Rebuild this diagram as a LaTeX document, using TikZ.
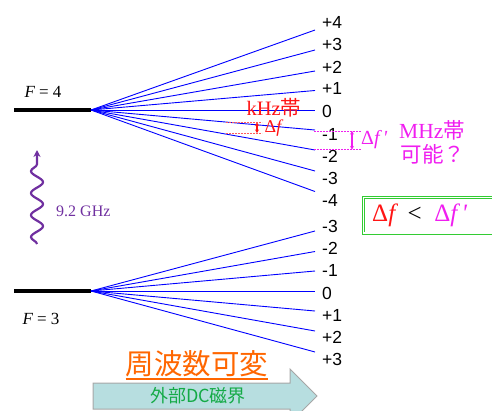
\documentclass[tikz,border=0pt]{standalone}
\usepackage{fontspec}
\setmainfont{Liberation Sans}
\newfontfamily\tms{Liberation Serif}
\newfontfamily\cjk{Noto Sans CJK JP}
\usetikzlibrary{arrows.meta,decorations.pathmorphing}
\definecolor{lvlblue}{RGB}{0,0,255}
\definecolor{khzred}{RGB}{255,20,20}
\definecolor{mhzmag}{RGB}{240,30,240}
\definecolor{wavepurple}{RGB}{112,48,160}
\definecolor{varorange}{RGB}{255,102,0}
\definecolor{boxgreen}{RGB}{51,204,51}
\definecolor{arrowfill}{RGB}{183,222,224}
\definecolor{dcgreen}{RGB}{20,170,70}
\begin{document}
\begin{tikzpicture}[x=1pt,y=-1pt,
  level/.style={line width=4.3pt,black},
  fan/.style={lvlblue,line width=0.9pt},
  mlabel/.style={anchor=west,inner sep=0pt,font=\fontsize{17.5}{17.5}\selectfont},
  flabel/.style={inner sep=0pt,font=\tms\fontsize{17}{17}\selectfont},
  reddash/.style={khzred!70,dash pattern=on 2pt off 1pt,line width=0.7pt},
  magdash/.style={mhzmag,dash pattern=on 2pt off 1pt,line width=0.7pt},
  dblarrow/.style={line width=1.1pt,{Stealth[length=3.5pt,width=4pt]}-{Stealth[length=3.5pt,width=4pt]}},
]
\useasboundingbox (0,0) rectangle (492,410);
\clip (0,0) rectangle (492,410);

% levels
\coordinate (u0) at (14,110);
\coordinate (u) at (91,110);
\coordinate (l0) at (14,291);
\coordinate (l) at (91,291);
\draw[level] (u0) -- (u);
\draw[level] (l0) -- (l);
\node[flabel] (F4) at (43,92) {\itshape F\upshape\ =\ 4};
\node[flabel] (F3) at (41,319) {\itshape F\upshape\ =\ 3};

% upper fan
\foreach \n/\ly/\ty/\t in {a/30/22/+4, b/50/44/+3, c/71/67/+2, d/90.5/88/+1, e/110/111/0, f/130/134/-1, g/150/156/-2, h/171/178/-3, i/191.5/200/-4}{
  \coordinate (ue\n) at (315,\ly);
  \draw[fan] (u) -- (ue\n);
  \node[mlabel] (ut\n) at (322,\ty) {\t};
}
% lower fan
\foreach \n/\ly/\ty/\t in {a/231/226/-3, b/251.5/248/-2, c/271/270/-1, d/291/293/0, e/311/315/+1, f/331/337/+2, g/352/359/+3}{
  \coordinate (le\n) at (315,\ly);
  \draw[fan] (l) -- (le\n);
  \node[mlabel] (lt\n) at (322,\ty) {\t};
}

% kHz annotation
\node[khzred,inner sep=0pt,font=\fontsize{20.5}{20.5}\selectfont] (khz) at (274,108) {\tms kHz\cjk 帯};
\coordinate (k1a) at (226,122.5);
\coordinate (k1b) at (262,122.5);
\coordinate (k2a) at (226,133);
\coordinate (k2b) at (262,133);
\draw[reddash] (k1a) -- (k1b);
\draw[reddash] (k2a) -- (k2b);
\coordinate (karr1) at (257,122.5);
\coordinate (karr2) at (257,133);
\draw[khzred,dblarrow] (karr1) -- (karr2);
\node[khzred,inner sep=0pt,anchor=west,font=\tms\fontsize{18}{18}\selectfont] (dfk) at (264.5,128.5) {Δ\itshape f};

% MHz annotation
\coordinate (m1a) at (314,131);
\coordinate (m1b) at (361,131);
\coordinate (m2a) at (314,149.5);
\coordinate (m2b) at (361,149.5);
\draw[magdash] (m1a) -- (m1b);
\draw[magdash] (m2a) -- (m2b);
\coordinate (marr1) at (352,131);
\coordinate (marr2) at (352,149.5);
\draw[mhzmag,dblarrow] (marr1) -- (marr2);
\node[mhzmag,inner sep=0pt,anchor=west,font=\tms\fontsize{20}{20}\selectfont] (dfm) at (361,140) {Δ{\itshape f}\,{\itshape\textquotesingle}};
\node[mhzmag,inner sep=0pt,font=\fontsize{21.5}{21.5}\selectfont] (mhz) at (432,130) {\tms MHz\cjk 帯};
\node[mhzmag,inner sep=0pt,font=\cjk\fontsize{21.5}{21.5}\selectfont] (kano) at (433,154) {可能？};

% comparison box
\draw[boxgreen,line width=0.9pt,double=white,double distance=1.2pt] (363.5,197.5) rectangle (500,233);
\node[inner sep=0pt,anchor=west,font=\tms\fontsize{25}{25}\selectfont] (cmp) at (372,215) {\textcolor{khzred}{Δ\itshape f}\ \ <\ \ \textcolor{mhzmag}{Δ{\itshape f}\,{\itshape\textquotesingle}}};

% microwave
\coordinate (w0) at (37,244);
\coordinate (w1) at (37,150);
\draw[wavepurple,line width=2.2pt,decorate,decoration={snake,amplitude=6pt,segment length=22pt,post length=10pt},-{Stealth[length=7pt,width=7pt]}] (w0) -- (w1);
\node[wavepurple,inner sep=0pt,anchor=west,font=\tms\fontsize{16}{16}\selectfont] (ghz) at (56,211) {9.2 GHz};

% frequency variable
\node[varorange,inner sep=0pt,font=\cjk\fontsize{28.5}{28.5}\selectfont] (var) at (197,364) {周波数可変};
\draw[varorange,line width=1.4pt] ([yshift=-1.5pt]var.south west) -- ([yshift=-1.5pt]var.south east);

% DC field arrow
\draw[fill=arrowfill,draw=gray!70,line width=1pt] (93,383) -- (290,383) -- (290,369) -- (317,396) -- (290,423) -- (290,409) -- (93,409) -- cycle;
\node[dcgreen,inner sep=0pt,font=\cjk\fontsize{18}{18}\selectfont] (dc) at (198,396) {外部DC磁界};
\end{tikzpicture}
\end{document}
